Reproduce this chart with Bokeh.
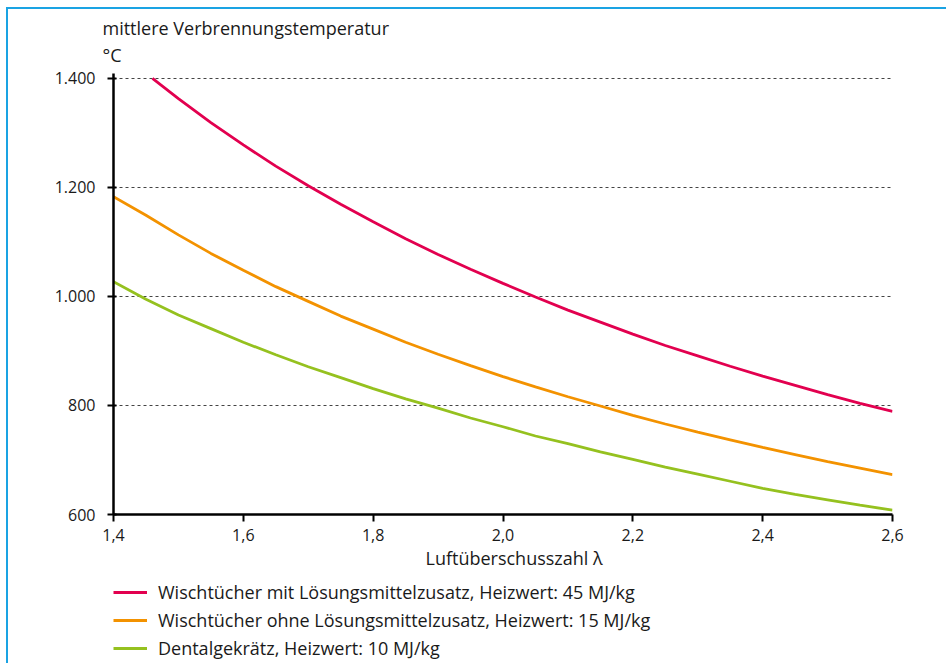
from bokeh.plotting import figure
from bokeh.layouts import column
from bokeh.models import FixedTicker, Legend, LegendItem, Range1d, Title
from bokeh.embed import file_html
from bokeh.resources import INLINE

# ---- data ----
lam_red = [1.46, 1.5, 1.55, 1.6, 1.65, 1.7, 1.75, 1.8, 1.85, 1.9, 1.95, 2.0, 2.05,
           2.1, 2.15, 2.2, 2.25, 2.3, 2.35, 2.4, 2.45, 2.5, 2.55, 2.6]
temp_red = [1400, 1363, 1319, 1278, 1239, 1203, 1169, 1137, 1106, 1077, 1050, 1024, 999,
            975, 953, 931, 910, 891, 872, 854, 837, 820, 804, 789]

lam = [1.4, 1.45, 1.5, 1.55, 1.6, 1.65, 1.7, 1.75, 1.8, 1.85, 1.9, 1.95, 2.0, 2.05,
       2.1, 2.15, 2.2, 2.25, 2.3, 2.35, 2.4, 2.45, 2.5, 2.55, 2.6]
temp_orange = [1183, 1149, 1113, 1079, 1048, 1018, 991, 964, 940, 916, 894, 873, 853, 834,
               816, 799, 782, 766, 751, 737, 723, 710, 697, 685, 673]
temp_green = [1027, 995, 966, 941, 916, 893, 871, 851, 831, 812, 795, 777, 761, 744,
              730, 715, 701, 687, 674, 661, 648, 637, 627, 617, 608]

series_names = ["Wischtücher mit Lösungsmittelzusatz, Heizwert: 45 MJ/kg",
                "Wischtücher ohne Lösungsmittelzusatz, Heizwert: 15 MJ/kg",
                "Dentalgekrätz, Heizwert: 10 MJ/kg"]
series_colors = ["#e2004f", "#f39200", "#95c11f"]

x_ticks = [1.4, 1.6, 1.8, 2.0, 2.2, 2.4, 2.6]
x_tick_labels = ["1,4", "1,6", "1,8", "2,0", "2,2", "2,4", "2,6"]
y_ticks = [600, 800, 1000, 1200, 1400]
y_tick_labels = ["600", "800", "1.000", "1.200", "1.400"]

y_title_1 = "mittlere Verbrennungstemperatur"
y_title_2 = "°C"
x_title = "Luftüberschusszahl  λ"

FONT = "Open Sans"
TXT = "#1a1a1a"
BLUE = "#1aa3e3"

series = [(lam_red, temp_red), (lam, temp_orange), (lam, temp_green)]

# ---- main chart ----
p = figure(width=940, height=566, output_backend="svg", toolbar_location=None,
           x_range=Range1d(1.4, 2.6), y_range=Range1d(600, 1409),
           min_border_left=105, min_border_right=56, min_border_top=64,
           min_border_bottom=61)
p.outline_line_color = None
p.xgrid.visible = False
p.ygrid.grid_line_color = "#444444"
p.ygrid.grid_line_dash = "3 3"
p.ygrid.grid_line_width = 1
p.ygrid.ticker = FixedTicker(ticks=y_ticks)

for ax in (p.xaxis[0], p.yaxis[0]):
    ax.axis_line_color = "black"
    ax.axis_line_width = 2.5
    ax.major_tick_line_color = "black"
    ax.major_tick_line_width = 2
    ax.minor_tick_line_color = None
    ax.major_label_text_font = FONT
    ax.major_label_text_font_size = "16px"
    ax.major_label_text_color = TXT

p.xaxis.ticker = FixedTicker(ticks=x_ticks)
p.xaxis.major_label_overrides = dict(zip(x_ticks, x_tick_labels))
p.xaxis.major_tick_in = 0
p.xaxis.major_tick_out = 7
p.xaxis.major_label_standoff = 7

p.yaxis.ticker = FixedTicker(ticks=y_ticks)
p.yaxis.major_label_overrides = dict(zip(y_ticks, y_tick_labels))
p.yaxis.major_tick_in = 3
p.yaxis.major_tick_out = 6
p.yaxis.major_label_standoff = 12

for (xs, ys), c in zip(series, series_colors):
    p.line(xs, ys, line_color=c, line_width=2.8)

# y-axis title (two lines above the plot, nearest first)
p.add_layout(Title(text=y_title_2, align="left", offset=-11, text_font=FONT,
                   text_font_size="18px", text_font_style="normal",
                   text_color=TXT, standoff=13), "above")
p.add_layout(Title(text=y_title_1, align="left", offset=-11, text_font=FONT,
                   text_font_size="18px", text_font_style="normal",
                   text_color=TXT, standoff=-10), "above")
# x-axis title
p.add_layout(Title(text=x_title, align="left", offset=312, text_font=FONT,
                   text_font_size="18px", text_font_style="normal",
                   text_color=TXT, standoff=0), "below")

# ---- legend strip below the chart (series drawn off-range, only swatches show) ----
pl = figure(width=940, height=90, output_backend="svg", toolbar_location=None,
            x_axis_type=None, y_axis_type=None, min_border=0,
            x_range=Range1d(0, 1), y_range=Range1d(0, 1))
pl.outline_line_color = None
pl.grid.visible = False
swatches = [pl.line(xs, ys, line_color=c, line_width=2.8)
            for (xs, ys), c in zip(series, series_colors)]
legend = Legend(items=[LegendItem(label=n, renderers=[r]) for n, r in zip(series_names, swatches)],
                location=(0, 5), orientation="vertical",
                label_text_font=FONT, label_text_font_size="18px",
                label_text_color=TXT, glyph_width=34, glyph_height=20,
                label_height=20, spacing=4, padding=0, margin=0,
                label_standoff=11, border_line_color=None,
                background_fill_alpha=0)
pl.add_layout(legend, "center")

layout = column(p, pl, spacing=0)
layout.styles = {"margin-left": "8px", "margin-top": "9px", "outline": "none",
                 "box-shadow": "-2px -2px 0px 0px " + BLUE}

open("out.html", "w").write(file_html(layout, INLINE))
